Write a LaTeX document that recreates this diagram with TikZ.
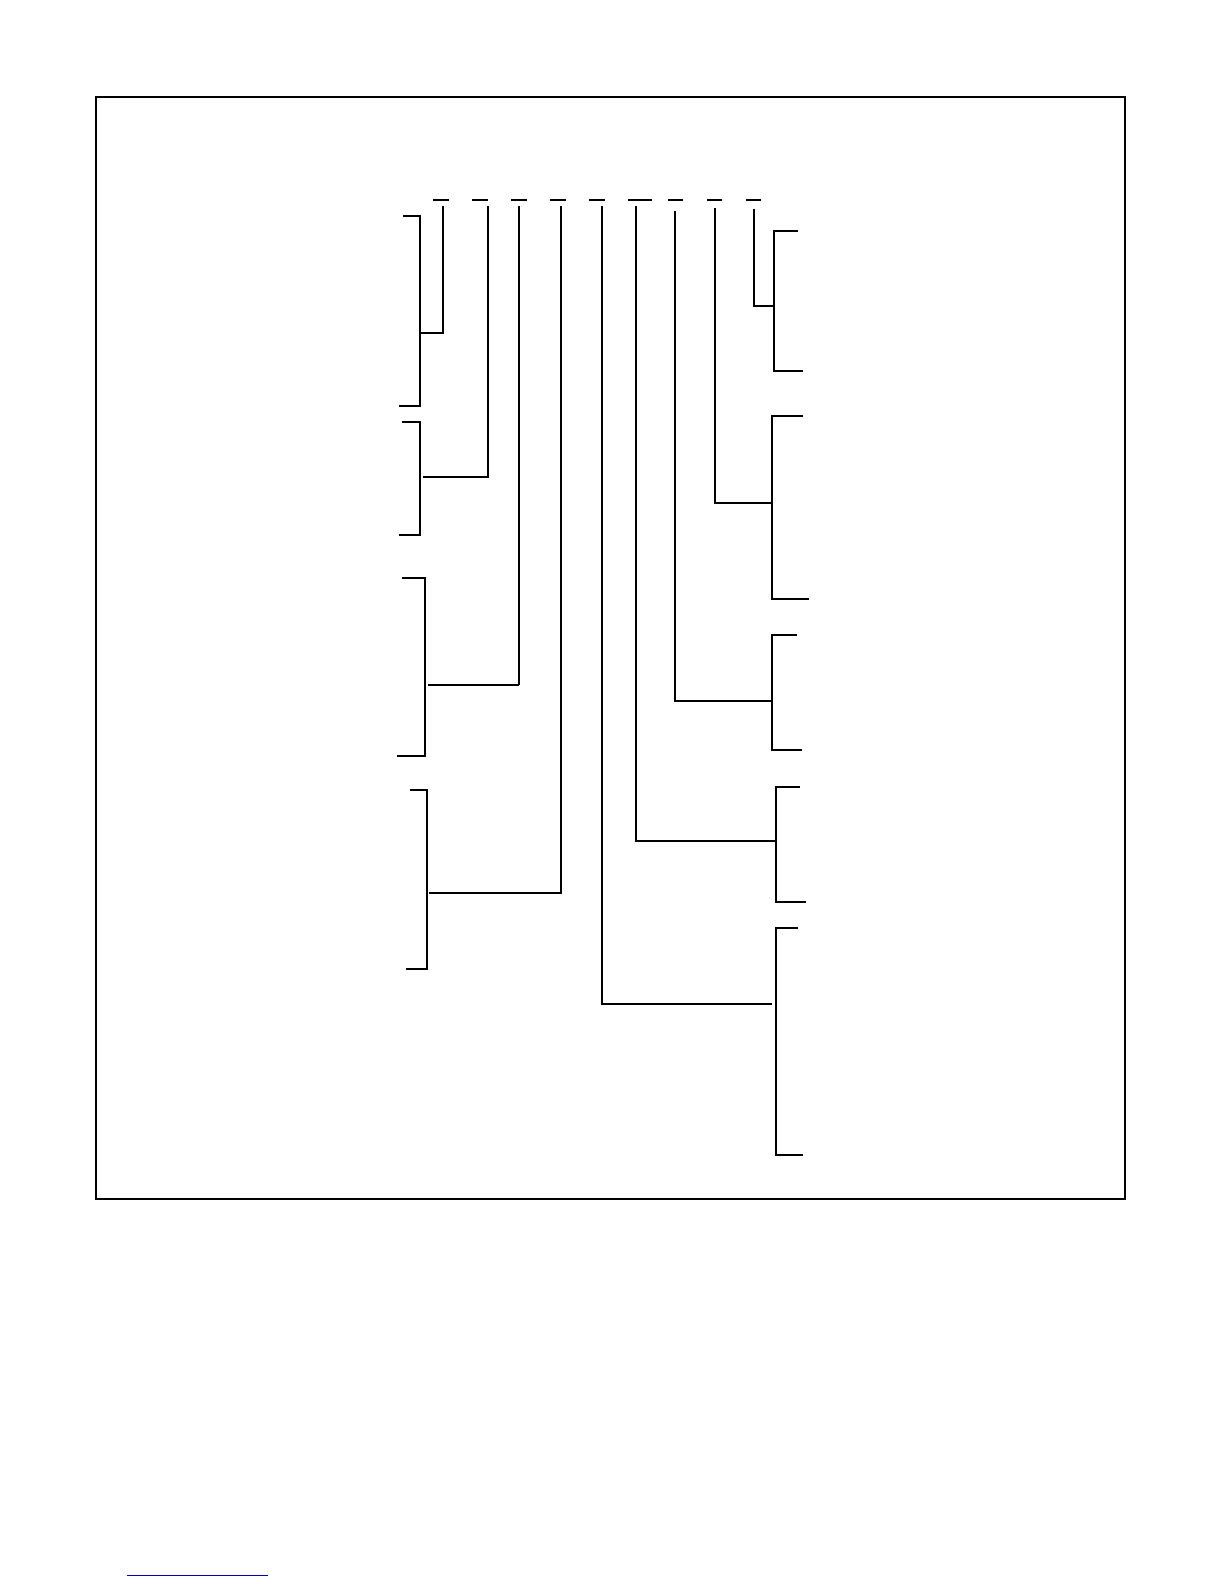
\documentclass[tikz,border=0pt]{standalone}
\begin{document}
\begin{tikzpicture}[x=1pt,y=-1pt,
	bar/.style={line width=2.2pt},
	thinbar/.style={line width=1.3pt}]
	\useasboundingbox (0,0) rectangle (1224,1584);
	\draw[line width=2.5pt] (96,97) rectangle (1125,1199);
	% field dashes
	\foreach \a/\b in {433/449,472/488,511/527,550/566,589/605,628/652,668/683,707/722,746/761}
		\draw[thinbar] (\a,200) -- (\b,200);
	% left brackets
	\draw[bar] (403,216) -- (420,216) -- (420,406) -- (399,406);
	\draw[bar] (402,422) -- (420,422) -- (420,535) -- (399,535);
	\draw[bar] (402,578) -- (425,578) -- (425,756) -- (397,756);
	\draw[bar] (410,790) -- (427,790) -- (427,969) -- (406,969);
	\draw[thinbar] (443,206) -- (443,333) -- (420,333);
	\draw[bar] (488,206) -- (488,477) -- (423,477);
	\draw[thinbar] (519,206) -- (519,685);
	\draw[bar] (519,685) -- (428,685);
	\draw[bar] (561,206) -- (561,893) -- (429,893);
	% right brackets
	\draw[bar] (798,231) -- (774,231) -- (774,371) -- (803,371);
	\draw[bar] (803,416) -- (772,416) -- (772,599) -- (809,599);
	\draw[bar] (797,635) -- (772,635) -- (772,750) -- (802,750);
	\draw[bar] (800,787) -- (776,787) -- (776,902) -- (806,902);
	\draw[bar] (798,928) -- (776,928) -- (776,1155) -- (803,1155);
	\draw[thinbar] (754,209) -- (754,306) -- (774,306);
	\draw[bar] (715,208) -- (715,503) -- (772,503);
	\draw[bar] (675,211) -- (675,701) -- (772,701);
	\draw[bar] (636,206) -- (636,841) -- (776,841);
	\draw[bar] (602,206) -- (602,1004) -- (772,1004);
	% footnote rule
	\draw[blue!70!black,line width=1pt] (127,1575) -- (268,1575);
\end{tikzpicture}
\end{document}
